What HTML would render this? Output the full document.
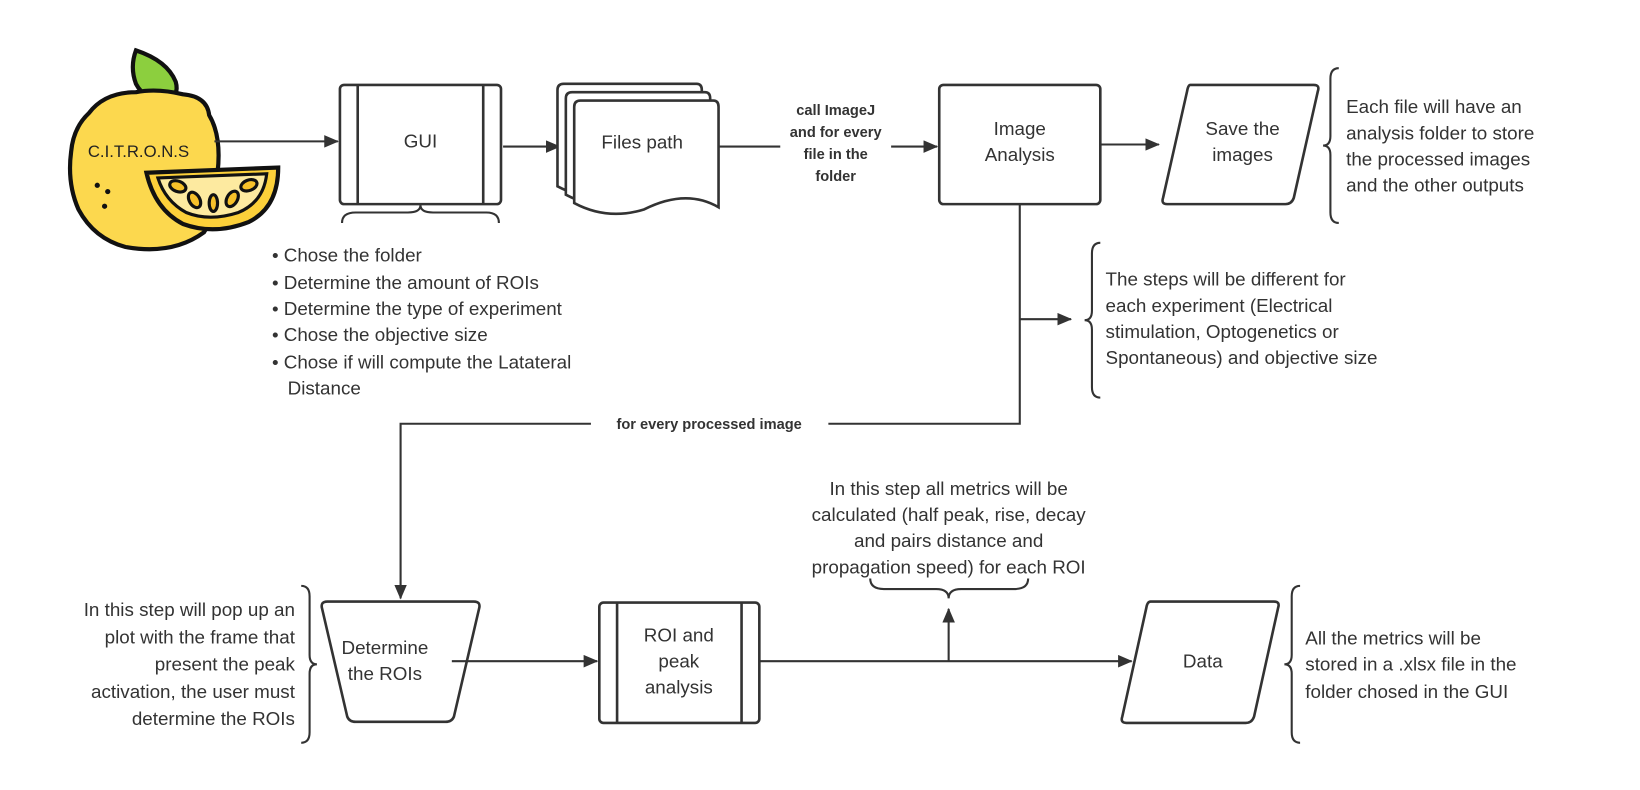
<!DOCTYPE html>
<html><head><meta charset="utf-8"><style>
html,body{margin:0;padding:0;background:#fff;}
svg{display:block;}
text{font-family:"Liberation Sans",sans-serif;fill:#333;}
.t{font-size:18px;}
.b{font-size:14px;font-weight:bold;}
</style></head><body>
<svg width="1640" height="790" viewBox="0 0 1568 755" xmlns="http://www.w3.org/2000/svg">
<defs>
<marker id="a" markerWidth="14" markerHeight="12" refX="13" refY="6" orient="auto" markerUnits="userSpaceOnUse"><path d="M0,0 L14,6 L0,12 z" fill="#333"/></marker>
</defs>
<g stroke="#333" stroke-width="2" fill="none">
<!-- lemon -->
<path d="M130,48 Q160,58 168,78 Q172,92 158,98 Q138,95 130,80 Q124,64 130,48 z" fill="#8ccf3e" stroke="#111" stroke-width="4"/>
<path d="M85,108 Q100,88 130,88 Q150,84 175,90 Q198,92 200,110 Q212,130 208,165 Q210,200 195,222 Q165,244 120,236 Q90,228 75,200 Q64,175 68,145 Q70,122 85,108 z" fill="#fcd84e" stroke="#111" stroke-width="4"/>
<path d="M140,165 L266,160 Q266,198 238,212 Q205,225 175,214 Q148,200 140,165 z" fill="#fcd03a" stroke="#111" stroke-width="4"/>
<path d="M151,170 L255,166 Q252,193 228,203 Q200,212 178,203 Q158,192 151,170 z" fill="#fdeaa0" stroke="#111" stroke-width="3"/>
<g fill="#f7c12a" stroke="#111" stroke-width="3">
<ellipse cx="170" cy="178" rx="8" ry="5" transform="rotate(20 170 178)"/><ellipse cx="186" cy="191" rx="5" ry="8" transform="rotate(-30 186 191)"/><ellipse cx="204" cy="194" rx="4" ry="8"/><ellipse cx="222" cy="190" rx="5" ry="8" transform="rotate(30 222 190)"/><ellipse cx="238" cy="177" rx="8" ry="5" transform="rotate(-20 238 177)"/>
</g>
<g fill="#111" stroke="none"><circle cx="93" cy="177" r="2.5"/><circle cx="103" cy="183" r="2.5"/><circle cx="100" cy="197" r="2.5"/></g>
<!-- connectors -->
<line x1="205" y1="135" x2="323" y2="135" marker-end="url(#a)"/>
<line x1="481" y1="140" x2="535" y2="140" marker-end="url(#a)"/>
<line x1="687" y1="140" x2="746" y2="140"/>
<line x1="852" y1="140" x2="896" y2="140" marker-end="url(#a)"/>
<line x1="1052" y1="138" x2="1108" y2="138" marker-end="url(#a)"/>
<polyline points="975,195 975,405 792,405"/>
<polyline points="565,405 383,405 383,572" marker-end="url(#a)"/>
<line x1="975" y1="305" x2="1024" y2="305" marker-end="url(#a)"/>
<line x1="432" y1="632" x2="571" y2="632" marker-end="url(#a)"/>
<line x1="726" y1="632" x2="1082" y2="632" marker-end="url(#a)"/>
<line x1="907" y1="632" x2="907" y2="582" marker-end="url(#a)"/>
<!-- shapes -->
<rect x="325" y="81" width="154" height="114" rx="4" stroke-width="2.5"/>
<line x1="342" y1="81" x2="342" y2="195" stroke-width="2.5"/><line x1="462" y1="81" x2="462" y2="195" stroke-width="2.5"/>
<path d="M327,213 Q327,203 340,203 L390,203 Q402,203 402,196 Q402,203 414,203 L465,203 Q477,203 477,213"/>
<g stroke-width="2.5" fill="#fff">
<path d="M533,86 Q533,80 539,80 L666,80 Q671,80 671,86 L671,180 Q640,165 600,185 Q565,195 533,178 z"/>
<path d="M541,94 Q541,88 547,88 L674,88 Q679,88 679,94 L679,188 Q648,173 608,193 Q573,203 541,186 z"/>
<path d="M549,102 Q549,96 555,96 L682,96 Q687,96 687,102 L687,198 Q656,180 616,200 Q581,211 549,194 z"/>
</g>
<rect x="898" y="81" width="154" height="114" rx="4" stroke-width="2.5"/>
<path d="M1138,81 L1256,81 Q1262,81 1260,87 L1237,189 Q1235,195 1229,195 L1116,195 Q1110,195 1112,189 L1135,87 Q1136,81 1138,81 z" stroke-width="2.5"/>
<path d="M1280,65 Q1272,65 1272,75 L1272,130 Q1272,139 1265,139 Q1272,139 1272,148 L1272,203 Q1272,213 1280,213"/>
<path d="M1052,232 Q1044,232 1044,242 L1044,297 Q1044,306 1037,306 Q1044,306 1044,315 L1044,370 Q1044,380 1052,380"/>
<path d="M313,575 L453,575 Q460,575 458,582 L434,685 Q432,690 426,690 L340,690 Q334,690 332,685 L308,582 Q306,575 313,575 z" stroke-width="2.5"/>
<rect x="573" y="576" width="153" height="115" rx="4" stroke-width="2.5"/>
<line x1="590" y1="576" x2="590" y2="691" stroke-width="2.5"/><line x1="709" y1="576" x2="709" y2="691" stroke-width="2.5"/>
<path d="M832,553 Q832,563 845,563 L895,563 Q907,563 907,572 Q907,563 919,563 L970,563 Q983,563 983,553"/>
<path d="M1100,575 L1218,575 Q1224,575 1222,581 L1199,685 Q1197,691 1191,691 L1077,691 Q1071,691 1073,685 L1096,581 Q1097,575 1100,575 z" stroke-width="2.5"/>
<path d="M1243,560 Q1235,560 1235,570 L1235,626 Q1235,635 1228,635 Q1235,635 1235,644 L1235,700 Q1235,710 1243,710"/>
<path d="M288,560 Q296,560 296,570 L296,626 Q296,635 303,635 Q296,635 296,644 L296,700 Q296,710 288,710"/>
</g>
<text x="84" y="150" style="font-size:16px;fill:#222">C.I.T.R.O.N.S</text>
<g class="t" text-anchor="middle">
<text x="402" y="141">GUI</text>
<text x="614" y="142">Files path</text>
<text x="975" y="129">Image</text><text x="975" y="154">Analysis</text>
<text x="1188" y="129">Save the</text><text x="1188" y="154">images</text>
<text x="368" y="625">Determine</text><text x="368" y="650">the ROIs</text>
<text x="649" y="613">ROI and</text><text x="649" y="638">peak</text><text x="649" y="663">analysis</text>
<text x="1150" y="638">Data</text>
<text x="907" y="473">In this step all metrics will be</text>
<text x="907" y="498">calculated (half peak, rise, decay</text>
<text x="907" y="523">and pairs distance and</text>
<text x="907" y="548">propagation speed) for each ROI</text>
</g>
<g class="t" text-anchor="end">
<text x="282" y="589">In this step will pop up an</text>
<text x="282" y="615">plot with the frame that</text>
<text x="282" y="641">present the peak</text>
<text x="282" y="667">activation, the user must</text>
<text x="282" y="693">determine the ROIs</text>
</g>
<g class="t">
<text x="260" y="250">• Chose the folder</text>
<text x="260" y="276">• Determine the amount of ROIs</text>
<text x="260" y="301">• Determine the type of experiment</text>
<text x="260" y="326">• Chose the objective size</text>
<text x="260" y="352">• Chose if will compute the Latateral</text>
<text x="275" y="377">Distance</text>
<text x="1287" y="108">Each file will have an</text>
<text x="1287" y="133">analysis folder to store</text>
<text x="1287" y="158">the processed images</text>
<text x="1287" y="183">and the other outputs</text>
<text x="1057" y="273">The steps will be different for</text>
<text x="1057" y="298">each experiment (Electrical</text>
<text x="1057" y="323">stimulation, Optogenetics or</text>
<text x="1057" y="348">Spontaneous) and objective size</text>
<text x="1248" y="616">All the metrics will be</text>
<text x="1248" y="641">stored in a .xlsx file in the</text>
<text x="1248" y="667">folder chosed in the GUI</text>
</g>
<g class="b" text-anchor="middle">
<text x="799" y="110">call ImageJ</text>
<text x="799" y="131">and for every</text>
<text x="799" y="152">file in the</text>
<text x="799" y="173">folder</text>
<text x="678" y="410">for every processed  image</text>
</g>
</svg>
</body></html>
